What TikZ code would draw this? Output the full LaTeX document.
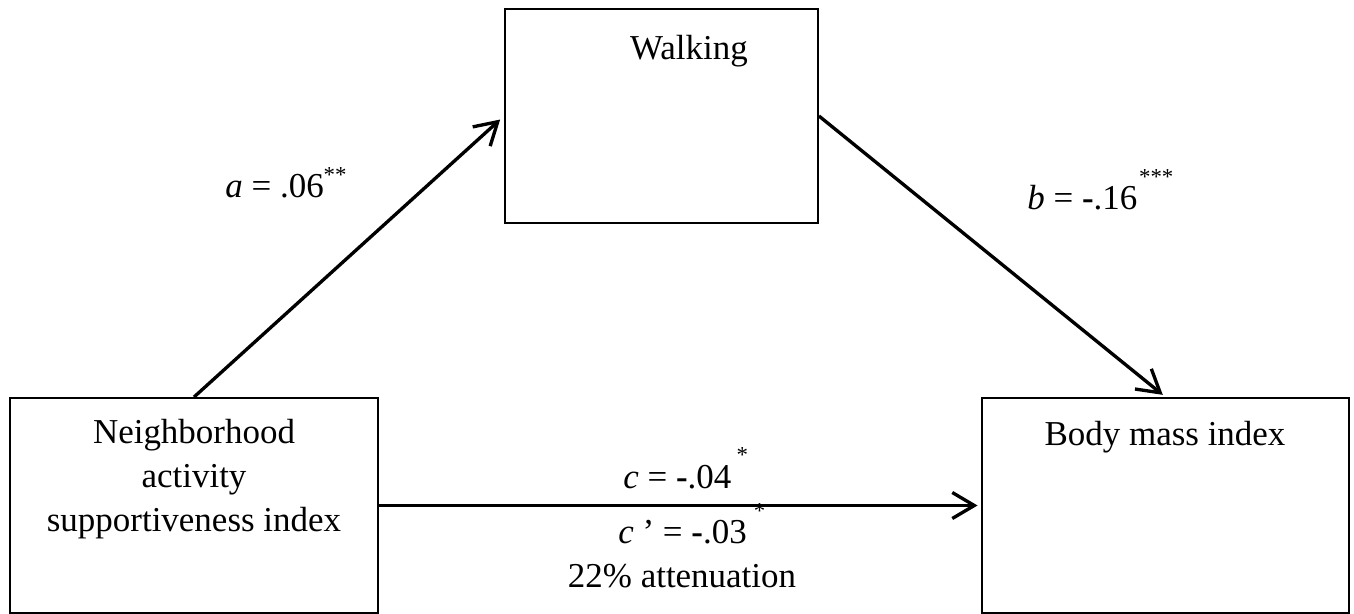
\documentclass[tikz,border=0pt]{standalone}
\usepackage{fontspec}
\setmainfont{Liberation Serif}
\usetikzlibrary{arrows.meta,positioning}

\newcommand{\sig}[2]{\raisebox{#1}{\fontsize{13}{13}\selectfont #2}}

\begin{document}
\begin{tikzpicture}[x=0.02cm,y=-0.02cm,
	box/.style={draw, line width=1.1pt, rectangle, inner sep=0},
	effect/.style={line width=1.9pt, -{Straight Barb[length=0.44cm,width=0.52cm,line width=1.9pt]}},
	txt/.style={font=\fontsize{19.9}{25}\selectfont, inner sep=0}]
	\useasboundingbox (0,0) rectangle (1354,614);
	
	\node[box, minimum width=6.26cm, minimum height=4.28cm] (walk) at (661.5,116) {};
	\node[box, minimum width=7.36cm, minimum height=4.3cm] (nbr) at (194,505.5) {};
	\node[box, minimum width=7.34cm, minimum height=4.3cm] (bmi) at (1165.5,505.5) {};
	
	\node[txt, anchor=base] (walktxt) at (689,60) {Walking};
	\node[txt, anchor=north, align=center] (nbrtxt) at (194,419) {Neighborhood\\activity\\supportiveness index};
	\node[txt, anchor=base] (bmitxt) at (1165,445) {Body mass index};
	
	\draw[effect, shorten >=3pt] (nbr.north) -- (walk.west);
	\draw[effect, shorten >=2pt] (walk.east) -- (bmi.north);
	\draw[effect, shorten >=2pt] (nbr.east) -- (bmi.west);
	
	\node[txt, anchor=base west] (apath) at (225,198) {\textit{a} = .06\sig{9pt}{**}};
	\node[txt, anchor=base west] (bpath) at (1027,210) {\textit{b} = \textbf{-}.16\hspace{1pt}\sig{14.6pt}{***}};
	\node[txt, anchor=base west] (cpath) at (623,488) {\textit{c} = \textbf{-}.04\hspace{3pt}\sig{14.6pt}{*}};
	\node[txt, anchor=base west] (cprime) at (618,543) {\textit{c} ’ = \textbf{-}.03\hspace{4pt}\sig{14pt}{*}};
	\node[txt, anchor=base] (atten) at (682,587) {22\% attenuation};
\end{tikzpicture}
\end{document}
